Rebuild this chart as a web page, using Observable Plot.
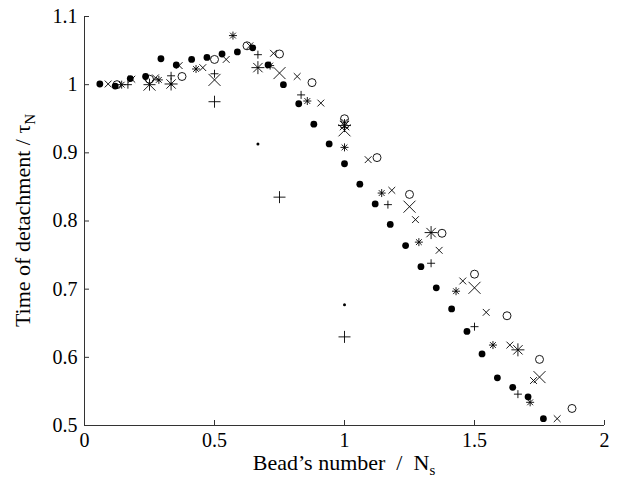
<!DOCTYPE html>
<html>
<head>
<meta charset="utf-8">
<script src="https://cdn.jsdelivr.net/npm/d3@7"></script>
<script src="https://cdn.jsdelivr.net/npm/@observablehq/plot@0.6"></script>
<style>
  html, body { margin: 0; padding: 0; background: white; }
  #chart { width: 618px; height: 477px; }
</style>
</head>
<body>
<div id="chart"></div>
<script>
// Tick values
const xTicks = [0, 0.5, 1, 1.5, 2];
const yTicks = [0.5, 0.6, 0.7, 0.8, 0.9, 1, 1.1];

// Filled dots series
const dotX = [0.059,0.118,0.176,0.235,0.294,0.353,0.412,0.471,0.529,0.588,0.647,0.706,0.765,0.824,0.882,0.941,1.000,1.059,1.118,1.176,1.235,1.294,1.353,1.412,1.471,1.529,1.588,1.647,1.706,1.765];
const dotY = [1.001,0.998,1.009,1.012,1.038,1.029,1.037,1.040,1.045,1.048,1.054,1.029,1.000,0.972,0.942,0.913,0.884,0.854,0.825,0.795,0.764,0.733,0.702,0.671,0.638,0.605,0.570,0.556,0.542,0.510];

// Small times series
const timesX = [0.091,0.182,0.273,0.364,0.455,0.545,0.636,0.727,0.818,0.909,1.000,1.091,1.182,1.273,1.364,1.455,1.545,1.636,1.727,1.818];
const timesY = [1.001,1.008,1.010,1.028,1.025,1.037,1.057,1.046,1.012,0.973,0.945,0.890,0.845,0.802,0.757,0.712,0.666,0.618,0.566,0.510];

// Small plus series
const plusX = [0.167,0.333,0.500,0.667,0.833,1.000,1.167,1.333,1.500,1.667];
const plusY = [1.000,1.013,1.016,1.044,0.985,0.937,0.824,0.738,0.645,0.546];

// Small asterisk series
const starX = [0.143,0.286,0.429,0.571,0.714,0.857,1.000,1.143,1.286,1.429,1.571,1.714];
const starY = [1.000,1.007,1.023,1.072,1.028,0.976,0.908,0.841,0.769,0.697,0.618,0.534];

// Open circles series
const circX = [0.125,0.250,0.375,0.500,0.625,0.750,0.875,1.000,1.125,1.250,1.375,1.500,1.625,1.750,1.875];
const circY = [1.000,1.008,1.012,1.037,1.057,1.045,1.003,0.950,0.893,0.839,0.782,0.722,0.661,0.597,0.525];

// Large times series
const bigTimesX = [0.25,0.50,0.75,1.00,1.25,1.50,1.75];
const bigTimesY = [1.000,1.007,1.017,0.933,0.821,0.702,0.571];

// Large plus series
const bigPlusX = [0.25,0.50,0.75,1.00];
const bigPlusY = [1.000,0.975,0.835,0.630];

// Large asterisk series
const bigStarX = [0.333,0.667,1.000,1.333,1.667];
const bigStarY = [1.001,1.025,0.940,0.783,0.611];

// Tiny dots series
const tinyX = [0.333,0.667,1.000];
const tinyY = [1.001,0.913,0.677];

const zip = (xs, ys) => xs.map((x, i) => ({x, y: ys[i]}));

const sym = kind => ({
  draw(ctx, size) {
    const r = Math.sqrt(size / Math.PI);
    if (kind === "plus" || kind === "star") {
      ctx.moveTo(-r, 0); ctx.lineTo(r, 0);
      ctx.moveTo(0, -r); ctx.lineTo(0, r);
    }
    if (kind === "times" || kind === "star") {
      const a = kind === "star" ? r * 0.72 : r;
      ctx.moveTo(-a, -a); ctx.lineTo(a, a);
      ctx.moveTo(-a, a); ctx.lineTo(a, -a);
    }
  }
});

const serif = "'Liberation Serif', 'Times New Roman', serif";
const W = 618, H = 477, mL = 84, mR = 14, mT = 16, mB = 52;
const frameW = W - mL - mR, frameH = H - mT - mB;

const plot = Plot.plot({
  width: W, height: H,
  marginLeft: mL, marginRight: mR, marginTop: mT, marginBottom: mB,
  x: {domain: [0, 2], axis: null},
  y: {domain: [0.5, 1.1], axis: null},
  style: {fontFamily: serif, fontSize: "20px", background: "white", color: "black"},
  marks: [
    Plot.ruleX([0], {stroke: "#333", strokeWidth: 1}),
    Plot.ruleY([0.5], {stroke: "#333", strokeWidth: 1}),
    Plot.tickX(xTicks, {x: d => d, insetTop: frameH - 5, stroke: "#333"}),
    Plot.tickY(yTicks, {y: d => d, insetRight: frameW - 5, stroke: "#333"}),
    Plot.axisX({ticks: xTicks, tickFormat: d => String(d), tickSize: 0, tickPadding: 7, label: null, fontSize: 20}),
    Plot.axisY({ticks: yTicks, tickFormat: d => String(d), tickSize: 0, tickPadding: 7, label: null, fontSize: 20}),
    Plot.dot(zip(dotX, dotY), {x: "x", y: "y", r: 3.4, fill: "black", stroke: "none"}),
    Plot.dot(zip(tinyX, tinyY), {x: "x", y: "y", r: 1.5, fill: "black", stroke: "none"}),
    Plot.dot(zip(circX, circY), {x: "x", y: "y", r: 4, fill: "none", stroke: "black", strokeWidth: 0.9}),
    Plot.dot(zip(timesX, timesY), {x: "x", y: "y", r: 3.4, symbol: sym("times"), fill: "none", stroke: "black", strokeWidth: 0.9}),
    Plot.dot(zip(plusX, plusY), {x: "x", y: "y", r: 4, symbol: sym("plus"), fill: "none", stroke: "black", strokeWidth: 0.9}),
    Plot.dot(zip(starX, starY), {x: "x", y: "y", r: 4, symbol: sym("star"), fill: "none", stroke: "black", strokeWidth: 0.9}),
    Plot.dot(zip(bigTimesX, bigTimesY), {x: "x", y: "y", r: 6, symbol: sym("times"), fill: "none", stroke: "black", strokeWidth: 0.9}),
    Plot.dot(zip(bigPlusX, bigPlusY), {x: "x", y: "y", r: 6, symbol: sym("plus"), fill: "none", stroke: "black", strokeWidth: 0.9}),
    Plot.dot(zip(bigStarX, bigStarY), {x: "x", y: "y", r: 6.5, symbol: sym("star"), fill: "none", stroke: "black", strokeWidth: 0.9})
  ]
});

const svg = d3.select(plot);
// x-axis label
const xl = svg.append("text")
  .attr("x", mL + frameW / 2).attr("y", 470)
  .attr("text-anchor", "middle")
  .style("font-family", serif).style("font-size", "22px").style("white-space", "pre")
  .attr("fill", "black");
xl.append("tspan").text("Bead\u2019s number  /  N");
xl.append("tspan").attr("dy", 5).style("font-size", "15px").text("s");

// y-axis label
const yl = svg.append("text")
  .attr("transform", `translate(30,${mT + frameH / 2}) rotate(-90)`)
  .attr("text-anchor", "middle")
  .style("font-family", serif).style("font-size", "22px").style("white-space", "pre")
  .attr("fill", "black");
yl.append("tspan").text("Time of detachment / \u03C4");
yl.append("tspan").attr("dy", 5).style("font-size", "15px").text("N");

document.getElementById("chart").appendChild(plot);
</script>
</body>
</html>
